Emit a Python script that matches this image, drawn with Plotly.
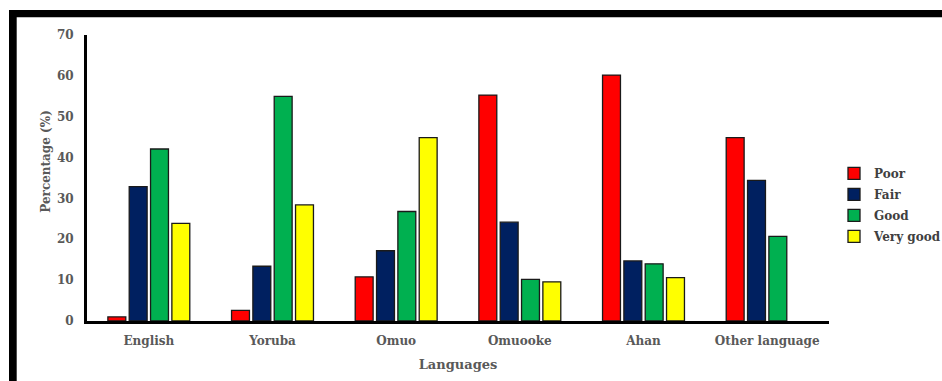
import plotly.graph_objects as go

categories = ["English", "Yoruba", "Omuo", "Omuooke", "Ahan", "Other language"]
poor = [1.0, 2.6, 10.8, 55.3, 60.2, 44.9]
fair = [32.9, 13.4, 17.2, 24.2, 14.7, 34.4]
good = [42.1, 55.0, 26.8, 10.2, 14.0, 20.7]
very_good = [23.9, 28.4, 44.9, 9.6, 10.6, None]

series = [
    ("Poor", poor, "#FF0000"),
    ("Fair", fair, "#002060"),
    ("Good", good, "#00B050"),
    ("Very good", very_good, "#FFFF00"),
]

W, H = 942, 381
ml, mr, mt, mb = 87, 113, 35, 59.5
pw = W - ml - mr
ph = H - mt - mb

def px(x):
    return (x - ml) / pw

def py(y):
    return (H - mb - y) / ph

font_family = "DejaVu Serif"
gray = "#595959"

def b(s):
    return "<b>" + s + "</b>"

fig = go.Figure()
for name, vals, col in series:
    fig.add_trace(go.Bar(
        x=categories, y=vals, name=b(name), legendgroup=name,
        marker=dict(color=col, line=dict(color="#1a1a1a", width=1.3)),
    ))

fig.update_layout(
    width=W, height=H,
    margin=dict(l=ml, r=mr, t=mt, b=mb, autoexpand=False),
    paper_bgcolor="white", plot_bgcolor="white",
    barmode="group", bargap=0.31, bargroupgap=0.16,
    font=dict(family=font_family, color=gray, size=12),
    showlegend=True,
    legend=dict(
        x=px(834), y=py(159), xanchor="left", yanchor="top",
        font=dict(family=font_family, size=12, color="#404040"),
        itemwidth=30, tracegroupgap=2, bgcolor="rgba(0,0,0,0)",
    ),
    xaxis=dict(
        showline=True, linecolor="black", linewidth=3,
        showgrid=False, ticks="", zeroline=False,
        tickmode="array", tickvals=categories, ticktext=[b(c) for c in categories],
        tickfont=dict(family=font_family, size=12, color=gray),
        ticklabelstandoff=7,
        title=dict(text=b("Languages"), font=dict(family=font_family, size=13, color=gray), standoff=13),
    ),
    yaxis=dict(
        range=[0, 70], tickmode="array", tickvals=[0, 10, 20, 30, 40, 50, 60, 70],
        ticktext=[b(str(v)) for v in [0, 10, 20, 30, 40, 50, 60, 70]],
        showline=True, linecolor="black", linewidth=3,
        showgrid=False, ticks="", zeroline=False,
        tickfont=dict(family=font_family, size=12, color=gray),
        ticklabelstandoff=8,
    ),
    annotations=[dict(
        text=b("Percentage (%)"), xref="paper", yref="paper",
        x=px(46), y=py(162), showarrow=False, textangle=-90,
        font=dict(family=font_family, size=12, color=gray),
        xanchor="center", yanchor="middle",
    )],
    shapes=[
        dict(type="rect", xref="paper", yref="paper",
             x0=px(9), x1=px(945), y0=py(17.3), y1=py(10),
             fillcolor="black", line=dict(width=0), layer="above"),
        dict(type="rect", xref="paper", yref="paper",
             x0=px(9), x1=px(16.7), y0=py(385), y1=py(10),
             fillcolor="black", line=dict(width=0), layer="above"),
    ],
)

fig.write_html("out.html")
